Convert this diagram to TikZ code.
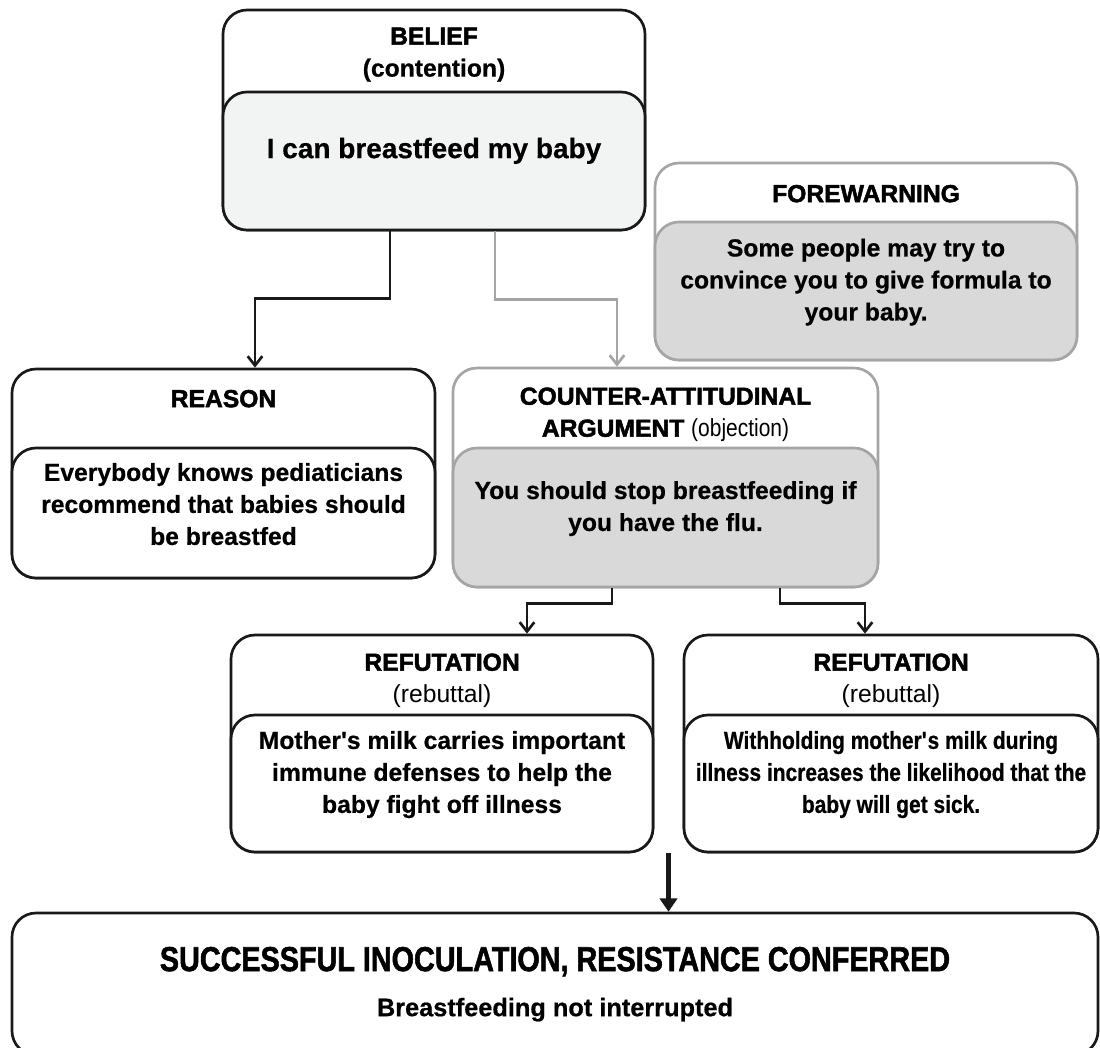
\documentclass[tikz,border=0pt]{standalone}
\usepackage{fontspec}
\setmainfont{Liberation Sans}[BoldFeatures={FakeBold=0.6}]
\newfontfamily\heavyfont{Liberation Sans}[BoldFeatures={FakeBold=2}]
\newfontfamily\narrowfont{Liberation Sans}[FakeStretch=0.85,BoldFeatures={FakeBold=0.6}]
\newfontfamily\titlefont{Liberation Sans}[FakeStretch=0.83,BoldFeatures={FakeBold=1.5}]
\usetikzlibrary{arrows.meta,calc,fit}
\definecolor{argline}{RGB}{25,25,25}
\definecolor{argpale}{RGB}{242,243,243}
\definecolor{arggrey}{RGB}{217,217,217}
\definecolor{arggreyline}{RGB}{165,165,165}
\tikzset{
  argbox/.style={
    rectangle,
    rounded corners=18pt,
    draw=argline,
    line width=2pt,
    fill=white,
    inner sep=0pt
  },
  argbody/.style={
    argbox,
    align=center,
    font=\bfseries\fontsize{18.5}{24}\selectfont
  },
  arghead/.style={
    inner sep=0pt,
    align=center,
    font=\bfseries\fontsize{18.5}{24}\selectfont
  },
  greyedge/.style={
    draw=arggreyline
  },
  argarrow/.style={
    -{Straight Barb[length=7pt,width=11pt]},
    line width=2pt,
    draw=argline
  },
  resultarrow/.style={
    -{Triangle[length=10pt,width=13pt]},
    line width=3.5pt,
    draw=argline
  }
}

\begin{document}
\begin{tikzpicture}[x=0.75pt,y=-0.75pt]
\useasboundingbox (0,0) rectangle (1100,1047);

% belief
\node[argbox, fit={(223,10) (645,230)}] (belief) {};
\node[argbody, fill=argpale, fit={(223,92) (645,230)}, font=\bfseries\fontsize{21}{26}\selectfont] (beliefbody) {I can breastfeed my baby};
\node[arghead] (beliefhead) at ($(belief.north)+(0,46)$) {{\heavyfont BELIEF}\\(contention)};

% forewarning
\node[argbox, greyedge, fit={(655,163) (1077,360)}] (forewarn) {};
\node[argbody, greyedge, fill=arggrey, fit={(655,222) (1077,360)}] (forewarnbody) {Some people may try to\\convince you to give formula to\\your baby.};
\node[arghead] (forewarnhead) at ($(forewarn.north)+(0,32)$) {\heavyfont FOREWARNING};

% reason
\node[argbox, fit={(12,369) (435,578)}] (reason) {};
\node[argbody, fit={(12,448) (435,578)}] (reasonbody) {Everybody knows pediaticians\\recommend that babies should\\be breastfed};
\node[arghead] (reasonhead) at ($(reason.north)+(0,31)$) {\heavyfont REASON};

% counter-attitudinal argument
\node[argbox, greyedge, fit={(453,368) (878,587)}] (counter) {};
\node[argbody, greyedge, fill=arggrey, fit={(453,448) (878,587)}] (counterbody) {You should stop breastfeeding if\\you have the flu.};
\node[arghead] (counterhead) at ($(counter.north)+(0,48)$) {{\heavyfont COUNTER-ATTITUDINAL}\\{\heavyfont ARGUMENT} {\narrowfont\mdseries (objection)}};

% refutations
\node[argbox, fit={(231,635) (653,852)}] (refleft) {};
\node[argbody, fit={(231,715) (653,852)}] (refleftbody) {Mother\textquotesingle s milk carries important\\immune defenses to help the\\baby fight off illness};
\node[arghead] (reflefthead) at ($(refleft.north)+(0,47)$) {{\heavyfont REFUTATION}\\{\mdseries (rebuttal)}};

\node[argbox, fit={(684,635) (1098,852)}] (refright) {};
\node[argbody, fit={(684,715) (1098,852)}, font=\narrowfont\bfseries\fontsize{18.5}{24}\selectfont] (refrightbody) {Withholding mother\textquotesingle s milk during\\illness increases the likelihood that the\\baby will get sick.};
\node[arghead] (refrighthead) at ($(refright.north)+(0,47)$) {{\heavyfont REFUTATION}\\{\mdseries (rebuttal)}};

% result
\node[argbox, fit={(12,913) (1098,1055)}] (result) {};
\node[arghead, font=\titlefont\bfseries\fontsize{26}{30}\selectfont] (resulttitle) at ($(result.north)+(0,50)$) {SUCCESSFUL INOCULATION, RESISTANCE CONFERRED};
\node[arghead, font=\bfseries\fontsize{19}{24}\selectfont] (resultnote) at ($(result.north)+(0,98)$) {Breastfeeding not interrupted};

% connectors
\draw[argarrow] ($(beliefbody.south)+(-44,0)$) -- ++(0,67) -| ($(reason.north)+(31.5,0)$);
\draw[argarrow, draw=arggreyline] ($(beliefbody.south)+(61,0)$) -- ++(0,68) -| ($(counter.north)+(-48.5,0)$);
\draw[argarrow] ($(counterbody.south)+(-53.5,0)$) -- ++(0,15) -| ($(refleft.north)+(85,0)$);
\draw[argarrow] ($(counterbody.south)+(114.5,0)$) -- ++(0,15) -| ($(refright.north)+(-26,0)$);
\coordinate (resultjoin) at ($(refleft.south east)!0.5!(refright.south west)$);
\draw[resultarrow] (resultjoin) -- (resultjoin |- result.north);
\end{tikzpicture}
\end{document}
